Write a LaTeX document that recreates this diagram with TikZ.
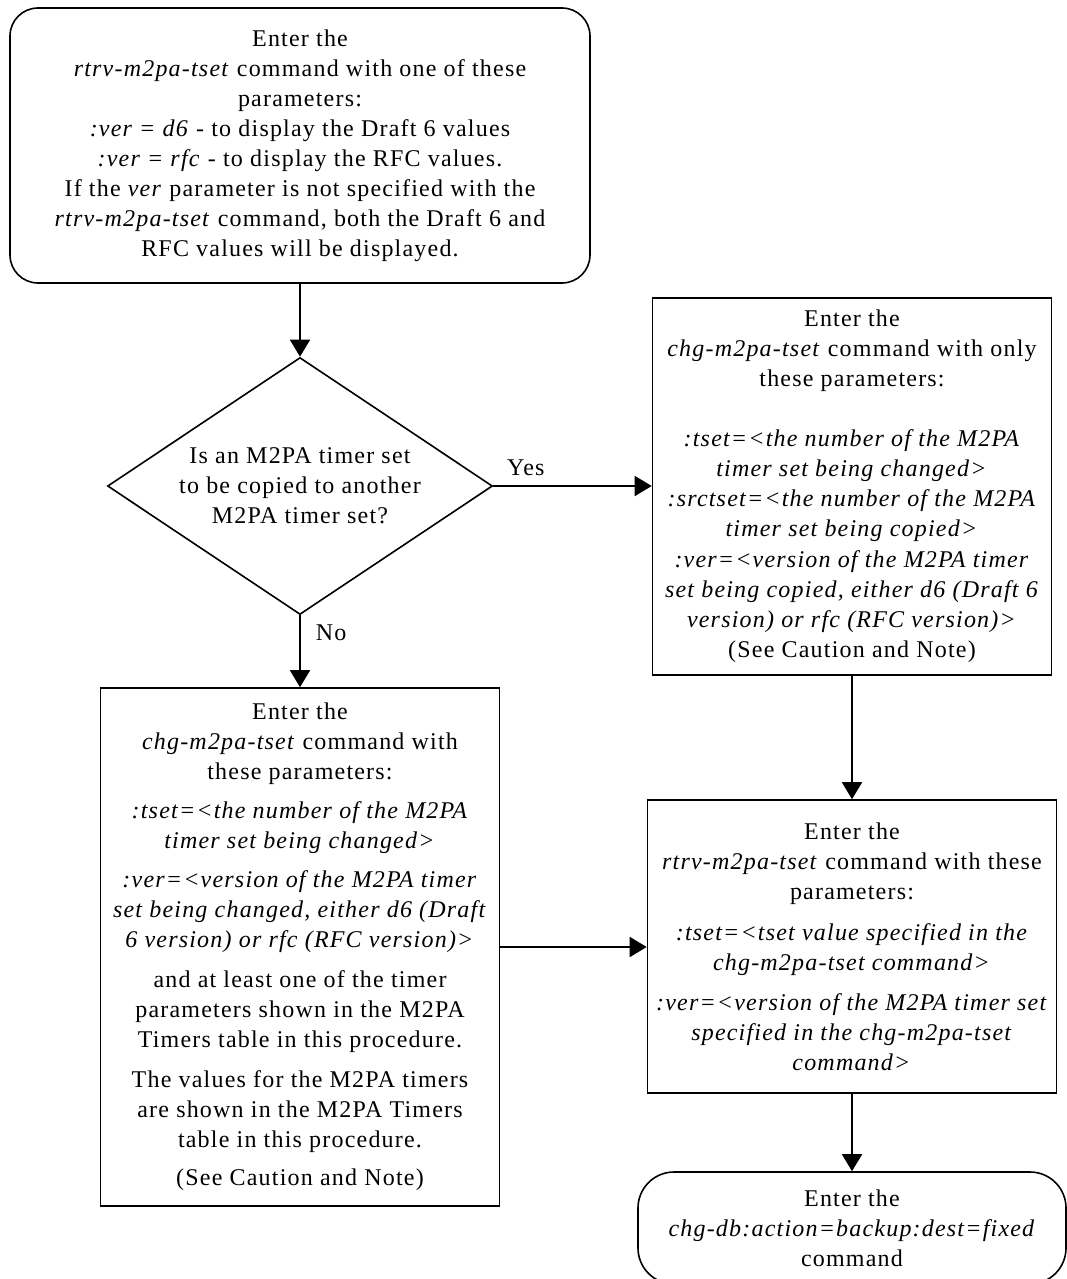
\documentclass[tikz,border=0pt]{standalone}
\usepackage{fontspec}
\setmainfont{Liberation Serif}[LetterSpace=5]
\usetikzlibrary{arrows.meta,shapes.geometric}
\newcommand\boxfont{\fontsize{24}{30}\selectfont}
\begin{document}
\begin{tikzpicture}[x=1pt,y=-1pt,
  every node/.style={font=\boxfont},
  procbox/.style={draw, line width=1.6pt, align=center, inner sep=0pt},
  termbox/.style={procbox, rounded corners=28pt},
  decbox/.style={draw, line width=1.6pt, diamond, aspect=1.5, align=center, inner sep=0pt},
  arr/.style={line width=1.8pt, -{Triangle[length=17pt,width=20pt]}},
  lbl/.style={inner sep=0pt}]
\useasboundingbox (0,0) rectangle (1066,1279);

\node[termbox, minimum width=580pt, minimum height=275pt] (start) at (300,145.5) {Enter the\\
\textit{rtrv-m2pa-tset} command with one of these\\
parameters:\\
\textit{:ver = d6} - to display the Draft 6 values\\
\textit{:ver = rfc} - to display the RFC values.\\
If the \textit{ver} parameter is not specified with the\\
\textit{rtrv-m2pa-tset} command, both the Draft 6 and\\
RFC values will be displayed.};

\node[decbox, minimum width=385pt, minimum height=257pt] (dec) at (300,486) {Is an M2PA timer set\\ to be copied to another\\ M2PA timer set?};

\node[procbox, minimum width=399pt, minimum height=377pt] (copy) at (852,486.5) {Enter the\\
\textit{chg-m2pa-tset} command with only\\
these parameters:\\
\mbox{}\\
\textit{:tset=<the number of the M2PA}\\
\textit{timer set being changed>}\\
\textit{:srctset=<the number of the M2PA}\\
\textit{timer set being copied>}\\[1pt]
\textit{:ver=<version of the M2PA timer}\\
\textit{set being copied, either d6 (Draft 6}\\
\textit{version) or rfc (RFC version)>}\\
(See Caution and Note)};

\node[procbox, minimum width=399pt, minimum height=518pt] (left) at (300,947) {Enter the\\
\textit{chg-m2pa-tset} command with\\
these parameters:\\[9pt]
\textit{:tset=<the number of the M2PA}\\
\textit{timer set being changed>}\\[9pt]
\textit{:ver=<version of the M2PA timer}\\
\textit{set being changed, either d6 (Draft}\\
\textit{6 version) or rfc (RFC version)>}\\[10pt]
and at least one of the timer\\
parameters shown in the M2PA\\
Timers table in this procedure.\\[10pt]
The values for the M2PA timers\\
are shown in the M2PA Timers\\
table in this procedure.\\[8pt]
(See Caution and Note)};

\node[procbox, minimum width=409pt, minimum height=293pt] (rtrv) at (852,946.5) {Enter the\\
\textit{rtrv-m2pa-tset} command with these\\
parameters:\\[11pt]
\textit{:tset=<tset value specified in the}\\
\textit{chg-m2pa-tset command>}\\[10pt]
\textit{:ver=<version of the M2PA timer set}\\
\textit{specified in the chg-m2pa-tset}\\
\textit{command>}};

\node[termbox, rounded corners=36pt, minimum width=428pt, minimum height=112pt] (end) at (852,1228) {Enter the\\
\textit{chg-db:action=backup:dest=fixed}\\
command};

\draw[arr] (start.south) -- (dec.north);
\draw[arr] (dec.east) -- node[lbl, pos=0, anchor=south west, xshift=13pt, yshift=9pt] (yes) {Yes} (copy.west |- dec.east);
\draw[arr] (dec.south) -- node[lbl, pos=0, anchor=north west, xshift=15pt, yshift=-9pt] (no) {No} (left.north -| dec.south);
\draw[arr] (copy.south) -- (rtrv.north);
\draw[arr] (left.east) -- (rtrv.west |- left.east);
\draw[arr] (rtrv.south) -- (end.north);
\end{tikzpicture}
\end{document}
